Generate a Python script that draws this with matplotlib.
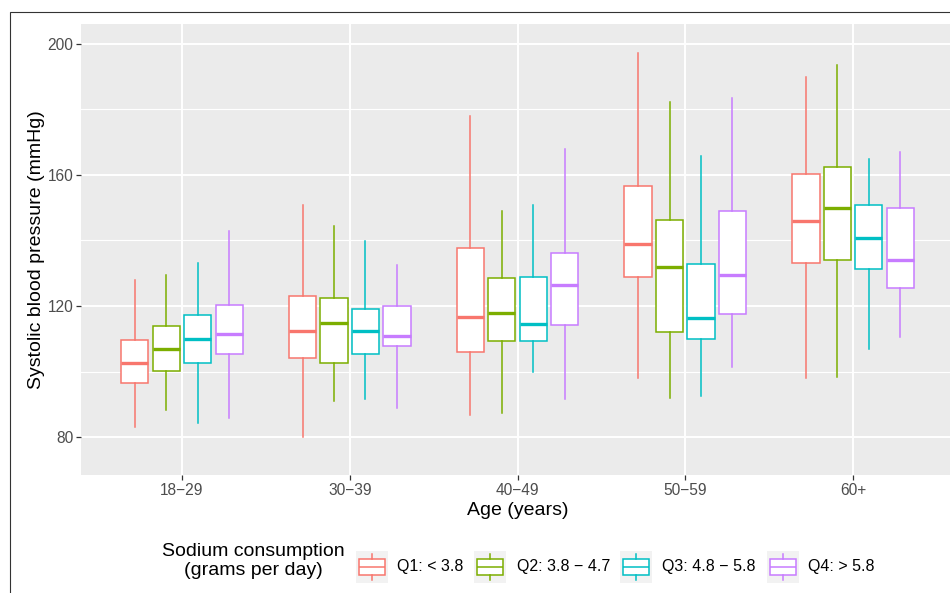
import matplotlib
matplotlib.use('Agg')
import matplotlib.pyplot as plt
from matplotlib.patches import Rectangle
from matplotlib.ticker import MultipleLocator

plt.rcParams['font.family'] = ['Liberation Sans', 'DejaVu Sans']

ages = ['18\u221229', '30\u221239', '40\u221249', '50\u221259', '60+']
groups = ['Q1: < 3.8', 'Q2: 3.8 \u2212 4.7', 'Q3: 4.8 \u2212 5.8', 'Q4: > 5.8']
colors = ['#F8766D', '#7CAE00', '#00BFC4', '#C77CFF']

# per group: one value per age band
whis_lo = [[83.0, 80.1, 86.6, 98.1, 98.1],
           [88.1, 91.1, 87.4, 92.0, 98.4],
           [84.2, 91.7, 99.9, 92.6, 107.0],
           [85.7, 88.9, 91.5, 101.5, 110.6]]
q1 = [[96.6, 104.2, 105.9, 129.0, 133.0],
      [100.1, 102.7, 109.2, 112.0, 134.0],
      [102.7, 105.3, 109.4, 110.0, 131.3],
      [105.3, 107.7, 114.1, 117.6, 125.6]]
med = [[102.7, 112.5, 116.7, 139.0, 146.0],
       [107.0, 114.9, 117.8, 131.9, 150.0],
       [110.0, 112.5, 114.6, 116.4, 140.9],
       [111.5, 110.9, 126.5, 129.5, 134.1]]
q3 = [[109.6, 123.1, 137.8, 156.5, 160.3],
      [114.0, 122.4, 128.5, 146.4, 162.4],
      [117.2, 119.2, 129.0, 132.9, 150.7],
      [120.4, 119.9, 136.1, 148.9, 149.9]]
whis_hi = [[127.9, 150.8, 178.0, 197.2, 189.9],
           [129.5, 144.4, 149.0, 182.3, 193.6],
           [133.0, 139.8, 150.7, 165.7, 164.9],
           [142.9, 132.4, 167.8, 183.4, 166.9]]

W, H = 950, 593
fig = plt.figure(figsize=(W / 100, H / 100), dpi=100)
ax = fig.add_axes([81.35 / W, (H - 475) / H, 872.35 / W, 451 / H])
ax.set_facecolor('#EBEBEB')

dodge = 0.1875
for g in range(4):
    stats = []
    for i in range(5):
        stats.append(dict(med=med[g][i], q1=q1[g][i], q3=q3[g][i],
                          whislo=whis_lo[g][i], whishi=whis_hi[g][i]))
    pos = [i + 1 + (g - 1.5) * dodge for i in range(5)]
    c = colors[g]
    ax.bxp(stats, positions=pos, widths=0.163, showcaps=False,
           showfliers=False, patch_artist=True, manage_ticks=False,
           boxprops=dict(facecolor='white', edgecolor=c, linewidth=1.1),
           whiskerprops=dict(color=c, linewidth=1.1),
           medianprops=dict(color=c, linewidth=2.4, solid_capstyle='butt'),
           zorder=3)

ax.set_xlim(0.4, 5.6)
ax.set_ylim(68.4, 206.1)
ax.set_xticks(range(1, 6))
ax.set_xticklabels(ages)
ax.yaxis.set_major_locator(MultipleLocator(40))
ax.yaxis.set_minor_locator(MultipleLocator(20))
ax.set_axisbelow(True)
ax.grid(which='major', color='white', linewidth=1.4)
ax.grid(which='minor', axis='y', color='white', linewidth=0.8)
for s in ax.spines.values():
    s.set_visible(False)
ax.tick_params(which='major', length=3.3, width=0.9, color='#333333',
               labelcolor='#4D4D4D', labelsize=11.2, pad=2.5)
ax.tick_params(which='minor', length=0)
ax.set_xlabel('Age (years)', fontsize=14, labelpad=3)
ax.set_ylabel('Systolic blood pressure (mmHg)', fontsize=14, labelpad=1.5)

# legend
fig.text(253 / W, 1 - 561 / H, 'Sodium consumption\n(grams per day)',
         ha='center', va='center', fontsize=14, linespacing=1.2)
key_x = [356, 474, 620, 767]
lab_x = [397, 517, 662, 808]
for g in range(4):
    kax = fig.add_axes([key_x[g] / W, (H - 583) / H, 32 / W, 32 / H])
    kax.set_facecolor('#F2F2F2')
    kax.bxp([dict(med=0.5, q1=0.25, q3=0.75, whislo=0.1, whishi=0.9)],
            positions=[0.5], widths=0.8, showcaps=False, showfliers=False,
            patch_artist=True,
            boxprops=dict(facecolor='white', edgecolor=colors[g], linewidth=1.1),
            whiskerprops=dict(color=colors[g], linewidth=1.1),
            medianprops=dict(color=colors[g], linewidth=1.1))
    kax.set_xlim(0, 1)
    kax.set_ylim(0, 1)
    kax.set_xticks([])
    kax.set_yticks([])
    for s in kax.spines.values():
        s.set_visible(False)
    fig.text(lab_x[g] / W, 1 - 567 / H, groups[g], ha='left', va='center',
             fontsize=11.5)

fig.add_artist(Rectangle((9.5 / W, -0.1), 1.2, 1.1 - 12.5 / H,
                         transform=fig.transFigure, fill=False,
                         edgecolor='#333333', linewidth=0.8))

fig.savefig('out.png', dpi=100)
